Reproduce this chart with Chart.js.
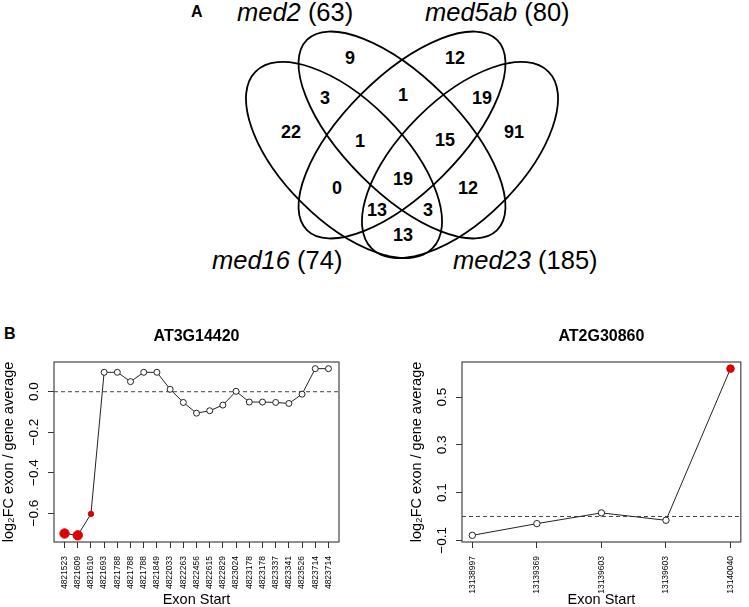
<!DOCTYPE html>
<html>
<head>
<meta charset="utf-8">
<script src="https://cdn.jsdelivr.net/npm/chart.js@4.4.0/dist/chart.umd.min.js"></script>
<style>
    body { margin: 0; background: #fff; }
    #page { position: relative; width: 749px; height: 607px; overflow: hidden; background: #fff; }
    #art { position: absolute; left: 0; top: 0; }
    canvas { position: absolute; }
    #leftChart { left: 0; top: 320px; }
    #rightChart { left: 380px; top: 320px; }
</style>
</head>
<body>
<div id="page">
    <svg id="art" width="749" height="607"></svg>
    <canvas id="leftChart" width="375" height="287"></canvas>
    <canvas id="rightChart" width="369" height="287"></canvas>
</div>
<script>
// ---- panel A: Venn counts ----
const vennSetNames = ["med2", "med5ab", "med16", "med23"];
const vennSetTotals = [63, 80, 74, 185];
// region counts, read left to right, top to bottom
const vennRegionCounts = [9, 12, 3, 1, 19, 22, 1, 15, 91, 0, 19, 12, 13, 3, 13];

// ---- panel B: exon level fold changes ----
const leftExonStarts = [
    "4821523", "4821609", "4821610", "4821693", "4821788", "4821788", "4821788",
    "4821849", "4822033", "4822263", "4822456", "4822615", "4822829", "4823024",
    "4823178", "4823178", "4823337", "4823341", "4823526", "4823714", "4823714",
];
const leftLog2FC = [
    -0.701, -0.710, -0.604, 0.096, 0.096, 0.050, 0.096,
    0.096, 0.012, -0.053, -0.106, -0.094, -0.066, 0.002,
    -0.051, -0.051, -0.053, -0.058, -0.012, 0.114, 0.114,
];
// 2 = strongly significant, 1 = significant, 0 = not
const leftSignificance = [2, 2, 1, 0, 0, 0, 0, 0, 0, 0, 0, 0, 0, 0, 0, 0, 0, 0, 0, 0, 0];
const leftYTicks = [-0.6, -0.4, -0.2, 0];
const leftYTickLabels = ["\u22120.6", "\u22120.4", "\u22120.2", "0.0"];

const rightExonStarts = ["13138997", "13139369", "13139603", "13139603", "13140040"];
const rightLog2FC = [-0.079, -0.030, 0.015, -0.016, 0.619];
const rightSignificance = [0, 0, 0, 0, 1];
const rightYTicks = [-0.1, 0, 0.1, 0.2, 0.3, 0.4, 0.5, 0.6];
const rightYTickLabels = ["\u22120.1", "", "0.1", "", "0.3", "", "0.5", ""];

const FONT = "'Liberation Sans', Arial, Helvetica, sans-serif";
const RED = "#dd0000";

// ---------- Venn diagram (SVG) ----------
const svgNS = "http://www.w3.org/2000/svg";
const art = document.getElementById("art");

function addSvg(tag, attrs, text) {
    const el = document.createElementNS(svgNS, tag);
    for (const k in attrs) el.setAttribute(k, attrs[k]);
    if (text !== undefined) el.textContent = text;
    art.appendChild(el);
    return el;
}

const ellipses = [
    { cx: 344, cy: 160, rx: 125, ry: 60, rot: 45 },    // med16
    { cx: 402, cy: 135, rx: 134.5, ry: 57.7, rot: 45 }, // med2
    { cx: 402, cy: 135, rx: 134.5, ry: 57.7, rot: -45 },// med5ab
    { cx: 460, cy: 160, rx: 125, ry: 60, rot: -45 },   // med23
];
ellipses.forEach((e) => {
    addSvg("ellipse", {
        cx: e.cx, cy: e.cy, rx: e.rx, ry: e.ry,
        transform: `rotate(${e.rot} ${e.cx} ${e.cy})`,
        fill: "none", stroke: "#000", "stroke-width": 1.8,
    });
});

const regionSpots = [
    [350, 57], [455, 57], [325, 97], [403, 94], [482, 97],
    [291, 131], [360, 140], [445, 139], [514, 131],
    [337, 187], [403, 178], [468, 187], [377, 209], [428, 209], [403, 234],
];
vennRegionCounts.forEach((n, i) => {
    addSvg("text", {
        x: regionSpots[i][0], y: regionSpots[i][1] + 6.5,
        "text-anchor": "middle", "font-family": FONT,
        "font-size": 18, "font-weight": "bold",
    }, String(n));
});

const setLabelSpots = [[237, 21], [425, 21], [212, 269], [453, 269]];
vennSetNames.forEach((name, i) => {
    const t = addSvg("text", {
        x: setLabelSpots[i][0], y: setLabelSpots[i][1],
        "font-family": FONT, "font-size": 25.5,
    });
    const it = document.createElementNS(svgNS, "tspan");
    it.setAttribute("font-style", "italic");
    it.textContent = name;
    t.appendChild(it);
    t.appendChild(document.createTextNode(` (${vennSetTotals[i]})`));
});

addSvg("text", { x: 191, y: 16.7, "font-family": FONT, "font-size": 16, "font-weight": "bold" }, "A");
addSvg("text", { x: 4, y: 339, "font-family": FONT, "font-size": 16, "font-weight": "bold" }, "B");

// ---------- exon charts ----------
Chart.defaults.font.family = FONT;
Chart.defaults.color = "#000";

const framePlugin = {
    id: "frame",
    beforeDatasetsDraw(chart) {
        const { ctx, chartArea: a, scales } = chart;
        const y0 = scales.y.getPixelForValue(0);
        ctx.save();
        ctx.strokeStyle = "#444";
        ctx.lineWidth = 1;
        ctx.setLineDash([4, 3]);
        ctx.beginPath();
        ctx.moveTo(a.left, y0);
        ctx.lineTo(a.right, y0);
        ctx.stroke();
        ctx.restore();
    },
    afterDraw(chart) {
        const { ctx, chartArea: a } = chart;
        ctx.save();
        ctx.strokeStyle = "#444";
        ctx.lineWidth = 1.2;
        ctx.strokeRect(a.left, a.top, a.right - a.left, a.bottom - a.top);
        ctx.restore();
    },
};

// R style 4% axis expansion
function paddedRange(lo, hi) {
    const pad = (hi - lo) * 0.04;
    return [lo - pad, hi + pad];
}

function renderExonChart(canvasId, cfg) {
    const { title, starts, values, sig, yTicks, yTickLabels, radii, padLeft, padRight } = cfg;
    const [xMin, xMax] = paddedRange(1, starts.length);
    const [yMin, yMax] = paddedRange(Math.min(...values), Math.max(...values));

    return new Chart(document.getElementById(canvasId), {
        type: "line",
        data: {
            datasets: [{
                data: values.map((v, i) => ({ x: i + 1, y: v })),
                borderColor: "#222",
                borderWidth: 1,
                tension: 0,
                pointRadius: sig.map((s) => radii[s]),
                pointHoverRadius: sig.map((s) => radii[s]),
                pointBackgroundColor: sig.map((s) => (s ? RED : "#fff")),
                pointBorderColor: sig.map((s) => (s ? RED : "#222")),
                pointBorderWidth: 1,
            }],
        },
        options: {
            responsive: false,
            animation: false,
            layout: { padding: { left: padLeft, right: padRight, top: 0, bottom: 0 } },
            plugins: {
                legend: { display: false },
                tooltip: { enabled: false },
                title: {
                    display: true,
                    text: title,
                    fullSize: false,
                    color: "#000",
                    font: { size: 16, weight: "bold", lineHeight: 1.2 },
                    padding: { top: 7.4, bottom: 15.4 },
                },
            },
            scales: {
                x: {
                    type: "linear",
                    min: xMin,
                    max: xMax,
                    afterBuildTicks: (s) => { s.ticks = starts.map((_, i) => ({ value: i + 1 })); },
                    afterFit: (s) => { s.height = 65; },
                    border: { display: false },
                    grid: { drawOnChartArea: false, drawTicks: true, tickLength: 6, color: "#333" },
                    ticks: {
                        autoSkip: false,
                        minRotation: 90,
                        maxRotation: 90,
                        padding: 8,
                        font: { size: 8.5 },
                        callback: (v, i) => starts[i],
                    },
                    title: {
                        display: true,
                        text: "Exon Start",
                        font: { size: 14.5, lineHeight: 1 },
                        padding: { top: 0, bottom: 0 },
                    },
                },
                y: {
                    min: yMin,
                    max: yMax,
                    afterBuildTicks: (s) => { s.ticks = yTicks.map((v) => ({ value: v })); },
                    afterFit: (s) => { s.width = 54; },
                    border: { display: false },
                    grid: { drawOnChartArea: false, drawTicks: true, tickLength: 6, color: "#333" },
                    ticks: {
                        minRotation: 90,
                        maxRotation: 90,
                        crossAlign: "center",
                        padding: 0,
                        font: { size: 13.5 },
                        callback: (v, i) => yTickLabels[i],
                    },
                    title: {
                        display: true,
                        text: "log\u2082FC exon / gene average",
                        font: { size: 14.5, lineHeight: 1 },
                        padding: { top: 2, bottom: 0 },
                    },
                },
            },
        },
        plugins: [framePlugin],
    });
}

renderExonChart("leftChart", {
    title: "AT3G14420",
    starts: leftExonStarts,
    values: leftLog2FC,
    sig: leftSignificance,
    yTicks: leftYTicks,
    yTickLabels: leftYTickLabels,
    radii: [3, 2.7, 4.7],
    padLeft: 0,
    padRight: 36,
});

renderExonChart("rightChart", {
    title: "AT2G30860",
    starts: rightExonStarts,
    values: rightLog2FC,
    sig: rightSignificance,
    yTicks: rightYTicks,
    yTickLabels: rightYTickLabels,
    radii: [3.2, 3.8],
    padLeft: 28,
    padRight: 1,
});
</script>
</body>
</html>
